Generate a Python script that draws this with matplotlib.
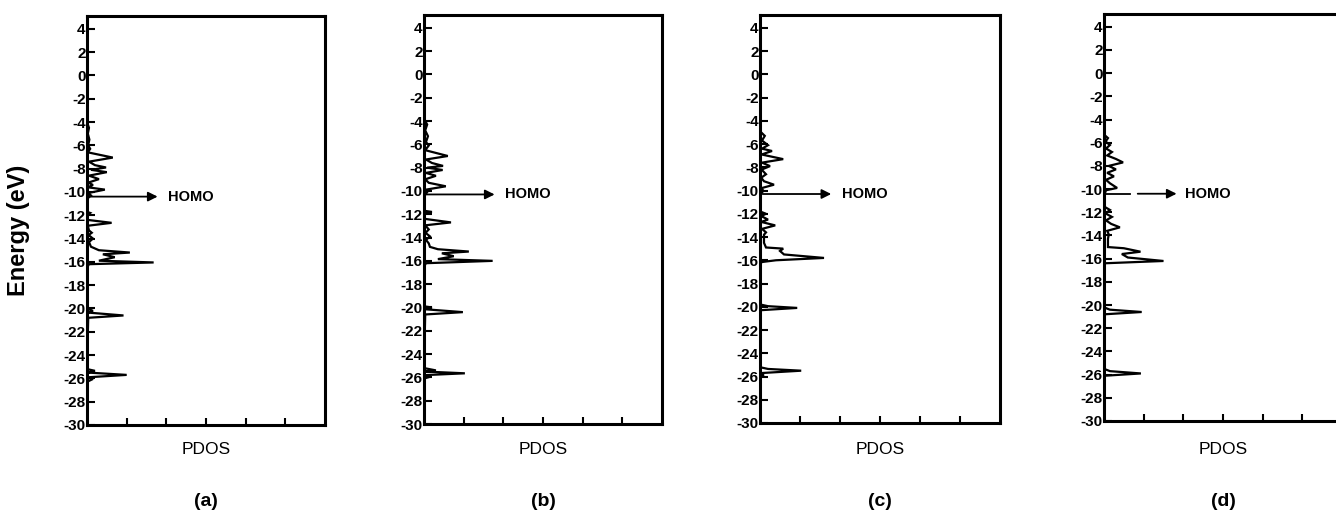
import matplotlib
matplotlib.use("Agg")
import matplotlib.pyplot as plt

W, H = 1336, 517

# energy (eV) / PDOS vertices
E_a = [-4.0, -4.5, -5.0, -5.5, -6.0, -6.3, -6.6, -7.05, -7.4, -7.7, -7.9, -8.1, -8.3, -8.6, -8.9,
       -9.2, -9.4, -9.6, -9.8, -10.1, -10.3, -10.6, -11.7, -11.8, -12.0, -12.4, -12.65, -12.9,
       -13.3, -13.5, -13.7, -14.0, -14.3, -14.7, -15.0, -15.2, -15.35, -15.6, -15.9, -16.05,
       -16.2, -16.5, -20.0, -20.2, -20.35, -20.6, -20.8, -25.2, -25.35, -25.5, -25.7, -25.9,
       -26.1, -26.3, -30.0]
D_a = [0.0, 0.05, 0.02, 0.06, 0.03, 0.08, 0.02, 0.65, 0.05, 0.2, 0.48, 0.1, 0.5, 0.05, 0.3,
       0.03, 0.15, 0.02, 0.45, 0.02, 0.1, 0.0, 0.0, 0.08, 0.0, 0.02, 0.62, 0.02,
       0.05, 0.12, 0.04, 0.15, 0.05, 0.1, 0.3, 1.08, 0.4, 0.7, 0.3, 1.68,
       0.05, 0.0, 0.0, 0.15, 0.02, 0.92, 0.03, 0.0, 0.2, 0.02, 1.0, 0.05,
       0.12, 0.0, 0.0]

E_b = [-3.8, -4.3, -4.8, -5.3, -5.8, -6.1, -6.5, -7.0, -7.3, -7.6, -7.85, -8.0, -8.2, -8.45, -8.7,
       -9.0, -9.3, -9.6, -9.9, -10.1, -10.5, -11.7, -11.8, -11.9, -12.4, -12.7, -12.95, -13.3,
       -13.6, -13.9, -14.2, -14.5, -14.8, -15.0, -15.2, -15.35, -15.6, -15.85, -16.0, -16.2,
       -16.5, -19.9, -20.0, -20.15, -20.4, -20.6, -25.2, -25.4, -25.5, -25.65, -25.8, -25.95,
       -26.1, -30.0]
D_b = [0.0, 0.08, 0.03, 0.1, 0.05, 0.12, 0.03, 0.6, 0.05, 0.2, 0.48, 0.08, 0.47, 0.05, 0.3,
       0.03, 0.12, 0.55, 0.03, 0.08, 0.0, 0.0, 0.2, 0.0, 0.03, 0.68, 0.03, 0.12,
       0.04, 0.15, 0.05, 0.12, 0.15, 0.35, 1.13, 0.45, 0.75, 0.35, 1.73, 0.05,
       0.0, 0.0, 0.2, 0.02, 0.98, 0.03, 0.0, 0.3, 0.03, 1.03, 0.05, 0.15,
       0.0, 0.0]

E_c = [-4.9, -5.3, -5.7, -6.1, -6.4, -6.6, -6.9, -7.3, -7.6, -7.9, -8.2, -8.6, -8.9, -9.2,
       -9.5, -9.8, -10.0, -10.5, -11.8, -12.0, -12.2, -12.5, -12.7, -13.0, -13.3, -13.6, -13.8,
       -14.5, -14.9, -15.0, -15.2, -15.5, -15.8, -16.0, -16.15, -16.3, -19.8, -19.95, -20.1,
       -20.3, -25.2, -25.35, -25.5, -25.7, -25.8, -25.9, -26.0, -30.0]
D_c = [0.0, 0.12, 0.05, 0.2, 0.05, 0.3, 0.04, 0.58, 0.05, 0.25, 0.04, 0.15, 0.03, 0.1,
       0.35, 0.03, 0.08, 0.0, 0.0, 0.15, 0.03, 0.2, 0.03, 0.38, 0.05, 0.15, 0.1,
       0.1, 0.15, 0.58, 0.5, 0.6, 1.6, 0.4, 0.05, 0.0, 0.0, 0.2, 0.93,
       0.0, 0.0, 0.2, 1.03, 0.05, 0.0, 0.1, 0.0, 0.0]

E_d = [-5.3, -5.6, -5.9, -6.2, -6.5, -6.8, -7.1, -7.4, -7.7, -8.0, -8.3, -8.6, -8.9, -9.2,
       -9.5, -9.9, -10.1, -10.6, -11.5, -11.8, -12.1, -12.4, -12.7, -13.0, -13.3, -13.6, -13.9,
       -14.3, -15.0, -15.1, -15.4, -15.6, -15.9, -16.2, -16.4, -20.2, -20.4, -20.6, -20.8,
       -25.5, -25.7, -25.9, -26.1, -30.0]
D_d = [0.0, 0.1, 0.04, 0.15, 0.05, 0.2, 0.08, 0.3, 0.48, 0.12, 0.3, 0.08, 0.25, 0.05,
       0.15, 0.33, 0.05, 0.0, 0.0, 0.15, 0.04, 0.2, 0.05, 0.18, 0.4, 0.08, 0.12,
       0.1, 0.1, 0.5, 0.92, 0.45, 0.6, 1.5, 0.0, 0.0, 0.15, 0.95, 0.0,
       0.0, 0.15, 0.93, 0.0, 0.0]

homo = [-10.4, -10.3, -10.3, -10.4]
labels = ["(a)", "(b)", "(c)", "(d)"]
yticks = list(range(-30, 5, 2))

# axes boxes in pixels: left, right, top, bottom
boxes = [(87, 325, 16, 425), (424, 662, 15, 424), (760, 1000, 15, 423), (1104, 1342, 14, 421)]
curves = [(E_a, D_a), (E_b, D_b), (E_c, D_c), (E_d, D_d)]

fig = plt.figure(figsize=(W / 100, H / 100), dpi=100)
font = "Liberation Sans"

for i, (l, r, t, b) in enumerate(boxes):
    ax = fig.add_axes([l / W, 1 - b / H, (r - l) / W, (b - t) / H])
    E, D = curves[i]
    ax.plot(D, E, color="black", lw=1.6, solid_joinstyle="miter")
    ax.set_xlim(0, 6)
    ax.set_ylim(-30, 5.1)
    ax.set_xticks([1, 2, 3, 4, 5])
    ax.set_xticklabels([])
    ax.set_yticks(yticks)
    ax.set_yticklabels([str(v) for v in yticks], fontfamily=font, fontweight="bold", fontsize=11)
    ax.tick_params(axis="both", direction="in", length=6, width=1.5, pad=1)
    ax.tick_params(axis="x", length=5)
    for s in ax.spines.values():
        s.set_linewidth(2.2)

    # HOMO arrow
    if i == 3:
        ax.plot([0, 0.65], [homo[i], homo[i]], color="black", lw=1.3)
        ax.annotate("", xy=(1.9, homo[i]), xytext=(0.78, homo[i]),
                    arrowprops=dict(arrowstyle="-|>", color="black", lw=1.3, mutation_scale=14))
    else:
        ax.annotate("", xy=(1.85, homo[i]), xytext=(0, homo[i]),
                    arrowprops=dict(arrowstyle="-|>", color="black", lw=1.3, mutation_scale=14))
    ax.text(2.05, homo[i], "HOMO", fontfamily=font, fontweight="bold", fontsize=10.5,
            va="center", ha="left")

    cx = (l + r) / 2
    fig.text(cx / W, 1 - 450 / H, "PDOS", fontfamily=font, fontsize=12.5,
             ha="center", va="center")
    fig.text(cx / W, 1 - 501 / H, labels[i], fontfamily=font, fontweight="bold", fontsize=14,
             ha="center", va="center")

fig.text(19 / W, 1 - 230 / H, "Energy (eV)", fontfamily=font, fontweight="bold", fontsize=17,
         rotation=90, ha="center", va="center")

fig.savefig("out.png", dpi=100)
